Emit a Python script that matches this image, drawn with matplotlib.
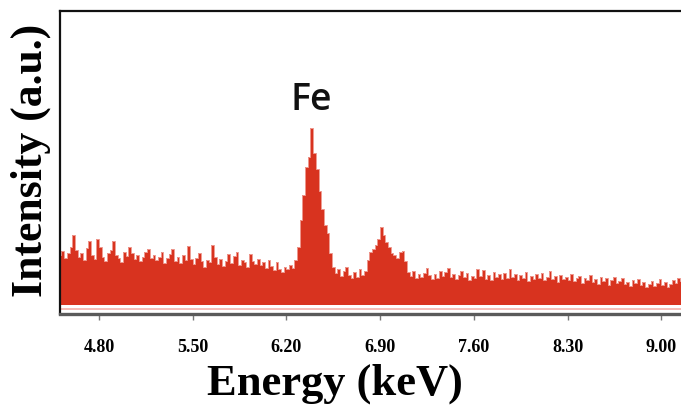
import numpy as np
import matplotlib
matplotlib.use("Agg")
import matplotlib.pyplot as plt

# EDS spectrum: 20 eV channels starting at 4.51 keV
energy_start = 4.51
channel_width = 0.02
counts = [
    50, 54, 47, 52, 58,   70, 55, 48, 52, 45,   57, 64, 50, 46, 66,
    58, 48, 44, 52, 55,   64, 50, 47, 43, 53,   49, 58, 52, 46, 50,
    44, 48, 53, 56, 47,   50, 45, 48, 53, 42,   47, 51, 56, 44, 48,
    42, 50, 45, 59, 46,   41, 47, 52, 44, 38,   45, 43, 60, 48, 41,
    46, 39, 44, 51, 42,   49, 53, 40, 45, 43,   38, 51, 44, 41, 46,
    40, 43, 37, 45, 39,   35, 43, 36, 33, 38,   36, 40, 37, 45, 58,
    85, 110, 138, 148, 177,  152, 136, 114, 96, 80,  72, 52, 38, 32, 36,
    29, 34, 38, 30, 27,   33, 28, 36, 30, 34,   45, 53, 56, 60, 66,
    78, 70, 63, 58, 52,   50, 47, 53, 54, 44,   33, 29, 34, 27, 31,
    28, 32, 37, 30, 26,   31, 27, 34, 29, 33,   37, 28, 31, 26, 30,
    34, 28, 32, 25, 29,   27, 36, 29, 35, 26,   30, 25, 33, 28, 31,
    26, 32, 27, 36, 28,   31, 25, 30, 27, 33,   24, 29, 26, 31, 27,
    32, 25, 28, 34, 26,   29, 23, 30, 26, 28,   25, 31, 24, 27, 29,
    22, 27, 25, 30, 23,   26, 21, 28, 24, 27,   20, 25, 28, 22, 24,
    27, 21, 23, 19, 25,   22, 26, 20, 23, 18,   21, 24, 19, 22, 26,
    20, 23, 18, 21, 25,   22, 27, 24,
]
tick_values = [4.80, 5.50, 6.20, 6.90, 7.60, 8.30, 9.00]
tick_labels = ["4.80", "5.50", "6.20", "6.90", "7.60", "8.30", "9.00"]
peak_label = "Fe"
peak_energy = 6.385

energy = energy_start + channel_width * np.arange(len(counts))
counts = np.asarray(counts, dtype=float)

fig = plt.figure(figsize=(6.81, 4.10), dpi=100)
ax = fig.add_axes([60 / 681, 1 - 315 / 410, 624 / 681, 303 / 410])

red = "#d8331f"
ax.fill_between(energy, 0, counts, step="mid", color=red, linewidth=0)
ax.step(energy, counts, where="mid", color="#ee9a90", linewidth=0.7)
ax.axhline(-4, color="#f2b0aa", linewidth=1.2)

ax.set_xlim(4.509, 9.17)
ax.set_ylim(-9, 294)

ax.text(peak_energy, 196, peak_label, ha="center", va="baseline",
        fontsize=27, family="Open Sans", fontweight="semibold",
        color="#111111")

for side in ("left", "top"):
    ax.spines[side].set_color("#111111")
    ax.spines[side].set_linewidth(1.6)
ax.spines["right"].set_visible(False)
ax.spines["bottom"].set_color("#5a5a5a")
ax.spines["bottom"].set_linewidth(2.4)

ax.set_yticks([])
ax.set_xticks(tick_values)
ax.set_xticklabels(tick_labels, family="Liberation Serif", fontweight="bold",
                   fontsize=13)
ax.tick_params(axis="x", direction="out", length=4, width=1.0,
               color="#777777", pad=13)

fig.text(335 / 681, 1 - 395 / 410, "Energy (keV)", ha="center", va="baseline",
         fontsize=32, family="Liberation Serif", fontweight="bold")
fig.text(42 / 681, 1 - 160 / 410, "Intensity (a.u.)", rotation=90,
         rotation_mode="anchor", ha="center", va="baseline",
         fontsize=31.5, family="Liberation Serif", fontweight="bold")

fig.savefig("out.png", dpi=100)
